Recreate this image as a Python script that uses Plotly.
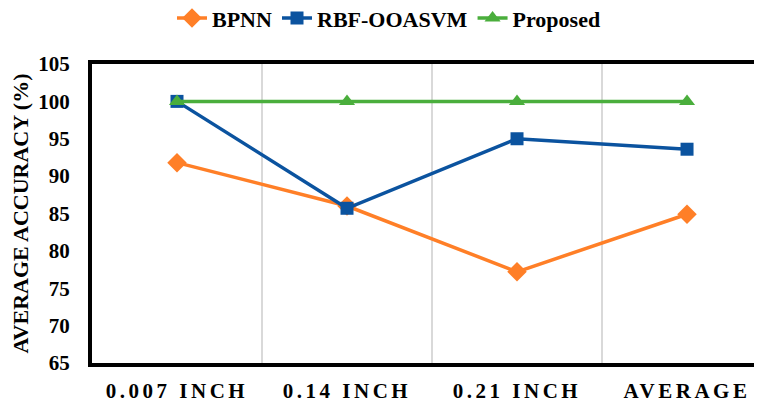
import plotly.graph_objects as go

categories = ["0.007 INCH", "0.14 INCH", "0.21 INCH", "AVERAGE"]
bpnn = [91.8, 86.0, 77.2, 84.9]
rbf = [100.0, 85.7, 95.0, 93.6]
proposed = [100.0, 100.0, 100.0, 100.0]
yticks = [65, 70, 75, 80, 85, 90, 95, 100, 105]

FONT = "Liberation Serif, Times New Roman, DejaVu Serif, serif"
x = list(range(len(categories)))

def bf(size):
    return dict(family=FONT, size=size, color="black", weight="bold")

fig = go.Figure()
fig.add_trace(go.Scatter(x=x, y=bpnn, name="BPNN", mode="lines+markers",
                         line=dict(color="#FF7F27", width=3.5),
                         marker=dict(symbol="diamond", size=15, color="#FF7F27")))
fig.add_trace(go.Scatter(x=x, y=rbf, name="RBF-OOASVM", mode="lines+markers",
                         line=dict(color="#0B539F", width=3.5),
                         marker=dict(symbol="square", size=13, color="#0B539F")))
fig.add_trace(go.Scatter(x=x, y=proposed, name="Proposed", mode="lines+markers",
                         line=dict(color="#4AAE3C", width=3.5),
                         marker=dict(symbol="triangle-up", size=14, color="#4AAE3C")))

fig.update_layout(
    width=762, height=405,
    margin=dict(l=84, r=8, t=56, b=50),
    paper_bgcolor="white", plot_bgcolor="white",
    font=bf(21),
    legend=dict(orientation="h", xref="container", yref="container",
                x=0.5, xanchor="center", y=0.975, yanchor="middle",
                font=bf(22), traceorder="normal"),
    xaxis=dict(range=[-0.5, 3.441], tickvals=x,
               ticktext=[f"<span style='letter-spacing:3.5px'>{c}</span>" for c in categories],
               showgrid=False, zeroline=False, automargin=False,
               showline=True, linecolor="black", linewidth=4, mirror=True,
               ticks="outside", ticklen=6, tickcolor="rgba(0,0,0,0)",
               tickfont=bf(21),
               minor=dict(tickvals=[0.5, 1.5, 2.5], showgrid=True, gridcolor="#D9D9D9", gridwidth=1.5, ticks="")),
    yaxis=dict(range=[65, 105], tickvals=yticks, ticktext=[str(v) for v in yticks],
               showgrid=False, zeroline=False,
               showline=True, linecolor="black", linewidth=4,
               ticks="outside", ticklen=14, tickcolor="rgba(0,0,0,0)",
               tickfont=bf(21),
               title=dict(text="AVERAGE ACCURACY (%)", standoff=5, font=bf(22))),
)

fig.write_html("out.html")
